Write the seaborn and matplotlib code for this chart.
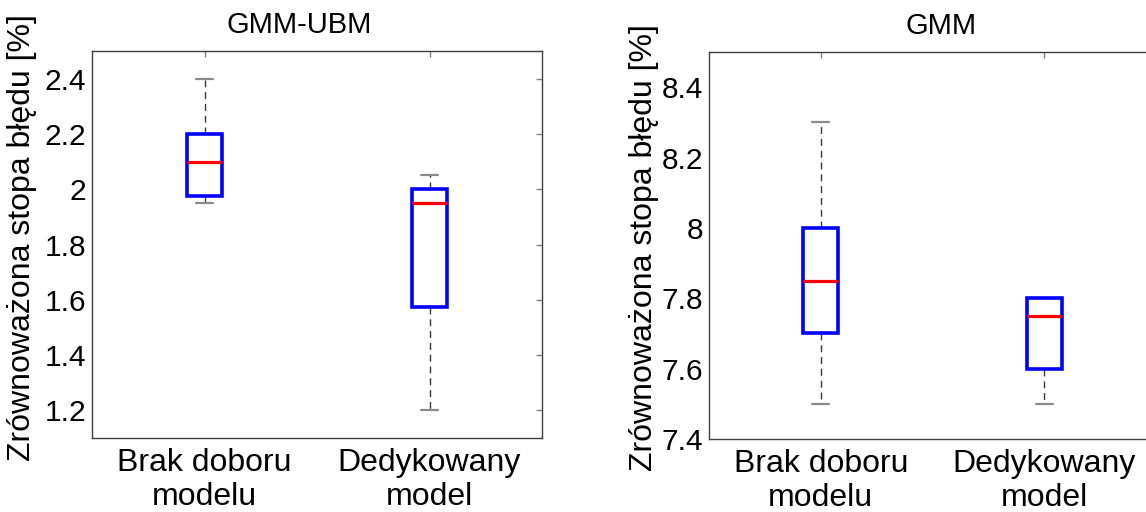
import numpy as np
import pandas as pd
import matplotlib
matplotlib.use("Agg")
import matplotlib.pyplot as plt
import seaborn as sns
from matplotlib.ticker import FuncFormatter, FixedLocator

# ---- data ----
categories = ["Brak doboru\nmodelu", "Dedykowany\nmodel"]
# five-number summaries: min, Q1, median, Q3, max
ubm_brak = [1.95, 1.975, 2.10, 2.20, 2.40]
ubm_dedyk = [1.20, 1.575, 1.95, 2.00, 2.05]
gmm_brak = [7.50, 7.70, 7.85, 8.00, 8.30]
gmm_dedyk = [7.50, 7.60, 7.75, 7.80, 7.80]
titles = ["GMM-UBM", "GMM"]
ylabel = "Zrównoważona stopa błędu [%]"
ubm_yticks = [1.2, 1.4, 1.6, 1.8, 2.0, 2.2, 2.4]
gmm_yticks = [7.4, 7.6, 7.8, 8.0, 8.2, 8.4]
ubm_ylim = (1.1, 2.5)
gmm_ylim = (7.4, 8.5)

sns.set_theme(style="white")
plt.rcParams["font.family"] = ["Liberation Sans", "DejaVu Sans"]

def make_df(a, b):
    return pd.DataFrame({
        "kategoria": [categories[0]] * len(a) + [categories[1]] * len(b),
        "wartosc": list(a) + list(b),
    })

panels = [
    (make_df(ubm_brak, ubm_dedyk), titles[0], ubm_yticks, ubm_ylim),
    (make_df(gmm_brak, gmm_dedyk), titles[1], gmm_yticks, gmm_ylim),
]

fig = plt.figure(figsize=(11.46, 5.12), dpi=100)
axes = [
    fig.add_axes([92 / 1146, 74 / 512, 450 / 1146, 387 / 512]),
    fig.add_axes([709 / 1146, 73 / 512, 447 / 1146, 387 / 512]),
]
title_x = [0.46, 0.52]
ylabel_xy = [(-0.122, 0.518), (-0.112, 0.494)]

for i, (ax, (df, title, yt, yl)) in enumerate(zip(axes, panels)):
    sns.boxplot(
        data=df, x="kategoria", y="wartosc", order=categories, ax=ax,
        width=0.155, whis=(0, 100), showfliers=False,
        boxprops=dict(facecolor="white", edgecolor="#0000ff", linewidth=2.6, zorder=3),
        medianprops=dict(color="#ff0000", linewidth=2.3, zorder=4),
        whiskerprops=dict(color="#3a3a3a", linewidth=1.0, linestyle=(0, (5, 3.5)), zorder=1),
        capprops=dict(color="#8a8a8a", linewidth=1.6, zorder=1),
    )
    ax.set_xlim(-0.5, 1.5)
    ax.set_ylim(*yl)
    ax.yaxis.set_major_locator(FixedLocator(yt))
    ax.yaxis.set_major_formatter(FuncFormatter(lambda v, p: f"{v:g}"))
    ax.set_xlabel("")
    ax.set_ylabel(ylabel, fontsize=23, color="black")
    ax.yaxis.set_label_coords(*ylabel_xy[i])
    ax.tick_params(axis="both", direction="in", length=4, width=1.0, color="#808080",
                   top=True, right=True, labelcolor="black")
    ax.tick_params(axis="x", labelsize=23, pad=7)
    ax.tick_params(axis="y", labelsize=21.5, pad=4)
    for lab in ax.get_xticklabels():
        lab.set_linespacing(1.2)
    for s in ax.spines.values():
        s.set_color("#404040")
        s.set_linewidth(1.0)
        s.set_visible(True)
    ax.text(title_x[i], 1 + 18 / 387, title, transform=ax.transAxes,
            ha="center", va="baseline", fontsize=21, color="black")

fig.savefig("out.png", dpi=100)
